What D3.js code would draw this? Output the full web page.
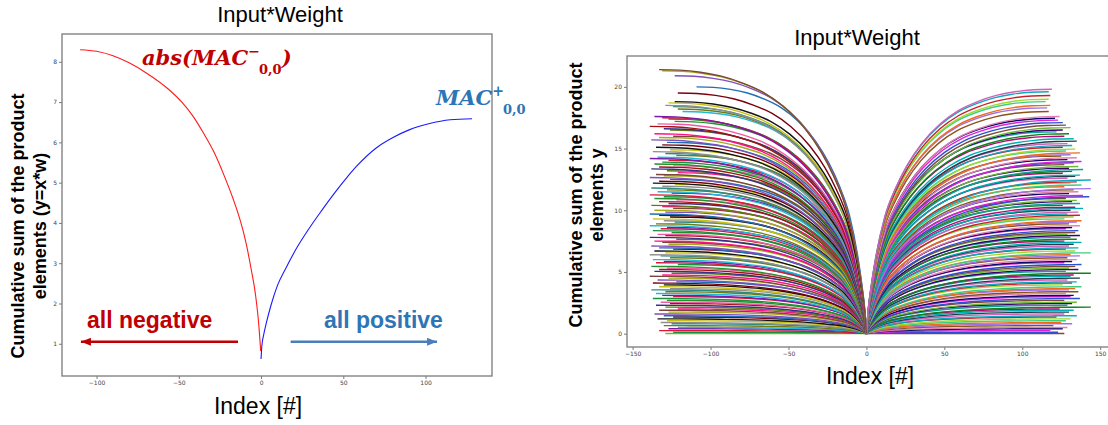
<!DOCTYPE html>
<html>
<head>
<meta charset="utf-8">
<script src="https://cdn.jsdelivr.net/npm/d3@7"></script>
<style>
body { margin: 0; background: #fff; }
svg { display: block; }
</style>
</head>
<body>
<svg id="svg1" width="1108" height="425"></svg>
<script>
// ---- left panel data: one kernel, cumulative sum of x*w ----
var negIndex = [-110, -100, -90, -80.5, -70, -56.6, -48, -41.4, -35, -28.4, -22, -17, -14.3, -11, -8.9, -6, -3.4, -1.5, -0.2];
var negValue = [8.30, 8.26, 8.15, 7.98, 7.73, 7.33, 6.99, 6.65, 6.23, 5.74, 5.13, 4.6, 4.28, 3.82, 3.46, 2.85, 2.23, 1.53, 0.82];
var posIndex = [0, 0.5, 1.5, 3, 6, 10, 15, 22, 29, 36.7, 45, 52, 58.4, 70, 80.2, 90, 101.9, 115, 128.3];
var posValue = [0.62, 0.95, 1.2, 1.48, 1.95, 2.45, 2.87, 3.4, 3.85, 4.3, 4.76, 5.12, 5.42, 5.86, 6.12, 6.31, 6.46, 6.56, 6.585];

var leftYTicks = [1, 2, 3, 4, 5, 6, 7, 8];
var leftXTicks = [-100, -50, 0, 50, 100];

// ---- right panel data: all kernels ----
// end point [index, value] of every cumulative curve
var negEnds = [[-133,21.4],[-131,21.3],[-123,20.9],[-109,20.0],[-121,19.5],[-123,18.8],[-127,18.7],[-129,18.5],[-124,18.4],[-121,18.2],[-118,18.0],[-136,17.6],[-131,17.5],[-127,17.4],[-123,17.2],[-134,17.0],[-139,16.8],[-130,16.6],[-126,16.5],[-136,16.2],[-124,16.0],[-133,15.9],[-138,15.7],[-128,15.5],[-131,15.3],[-135,15.1],
[-126,14.9],[-137,14.75],[-129,14.6],[-122,14.45],[-134,14.3],[-139,14.2],[-127,14.05],[-131,13.9],[-136,13.75],[-124,13.6],[-133,13.5],[-138,13.35],[-128,13.2],[-121,13.05],[-135,12.9],[-130,12.8],[-139,12.65],[-126,12.5],[-133,12.35],[-137,12.2],[-123,12.1],[-131,11.95],[-138,11.8],[-128,11.65],[-134,11.5],[-125,11.4],[-139,11.25],[-130,11.1],[-136,10.95],[-122,10.85],[-133,10.7],[-127,10.55],[-138,10.4],[-131,10.3],[-124,10.15],[-136,10.0],[-129,9.85],[-139,9.7],[-133,9.6],[-126,9.45],[-137,9.3],[-130,9.15],[-123,9.05],[-135,8.9],[-139,8.75],[-128,8.6],[-132,8.5],[-137,8.35],[-125,8.2],[-134,8.05],[-129,7.95],[-139,7.8],[-122,7.65],[-136,7.5],[-131,7.4],[-127,7.25],[-138,7.1],[-133,6.95],[-124,6.85],[-136,6.7],[-129,6.55],[-139,6.4],[-132,6.3],[-126,6.15],[-137,6.0],[-130,5.85],[-135,5.75],[-121,5.6],[-138,5.45],[-128,5.3],[-133,5.2],[-136,5.05],[-125,4.9],[-131,4.75],[-139,4.65],[-127,4.5],[-134,4.35],[-122,4.2],[-137,4.1],[-130,3.95],[-133,3.8],[-126,3.65],[-138,3.55],[-129,3.4],[-135,3.25],[-131,3.1],[-124,3.0],[-137,2.85],[-128,2.7],[-132,2.55],[-126,2.45],[-135,2.3],[-129,2.15],[-121,2.0],[-133,1.9],[-127,1.75],[-136,1.6],[-130,1.45],[-124,1.35],[-134,1.2],[-128,1.05],[-132,0.9],[-125,0.8],[-130,0.65],[-121,0.5],[-127,0.4],[-133,0.25],[-124,0.12],[-129,0.02]];

var posEnds = [[119,19.8],[117,19.6],[118,19.3],[117,19.0],[115,18.8],[118,18.5],[116,18.3],[117,18.0],[124,17.6],[121,17.45],[123,17.3],[126,17.1],[128,16.9],[131,16.7],[126,16.5],[122,16.35],[130,16.2],[127,16.0],[133,15.8],[135,15.6],[129,15.4],[132,15.25],[126,15.1],
[134,14.95],[128,14.8],[137,14.65],[131,14.5],[125,14.4],[135,14.25],[129,14.1],[138,13.95],[133,13.85],[127,13.7],[136,13.55],[130,13.4],[139,13.3],[132,13.15],[126,13.0],[137,12.85],[134,12.75],[129,12.6],[144,12.45],[135,12.3],[131,12.2],[138,12.05],[127,11.9],[144,11.75],[133,11.65],[136,11.5],[130,11.35],[139,11.2],[143,11.1],[128,10.95],[135,10.8],[132,10.7],[137,10.55],[126,10.4],[134,10.25],[139,10.15],[131,10.0],[136,9.85],[129,9.7],[137,9.6],[133,9.45],[127,9.3],[138,9.15],[135,9.05],[130,8.9],[137,8.75],[132,8.6],[128,8.5],[136,8.35],[134,8.2],[129,8.05],[137,7.95],[131,7.8],[135,7.65],[127,7.5],[138,7.4],[133,7.25],[130,7.1],[136,6.95],[128,6.85],[134,6.7],[144,6.55],[131,6.4],[137,6.3],[129,6.15],[135,6.0],[132,5.85],[127,5.75],[138,5.6],[134,5.45],[130,5.3],[136,5.2],[128,5.05],[144,4.9],[133,4.75],[131,4.65],[137,4.5],[129,4.35],[135,4.2],[132,4.1],[126,3.95],[138,3.8],[134,3.65],[130,3.55],[136,3.4],[128,3.25],[133,3.1],[131,3.0],[137,2.85],[127,2.7],[135,2.55],[132,2.45],[129,2.3],[144,2.15],[124,2.0],[133,1.9],[130,1.75],[127,1.6],[135,1.45],[122,1.35],[131,1.2],[128,1.05],[125,0.9],[132,0.8],[120,0.65],[129,0.5],[126,0.4],[118,0.25],[123,0.12],[127,0.02]];

// shape of a cumulative curve (fraction of length -> fraction of end value)
var profT = [0, 0.01, 0.025, 0.05, 0.1, 0.16, 0.22, 0.3, 0.4, 0.5, 0.6, 0.7, 0.8, 0.9, 1];
var profF = [0, 0.1, 0.19, 0.31, 0.48, 0.6, 0.69, 0.78, 0.86, 0.915, 0.95, 0.975, 0.99, 0.998, 1];

var rightYTicks = [0, 5, 10, 15, 20];
var rightXTicks = [-150, -100, -50, 0, 50, 100, 150];

var lineColors = ["#6fb83a","#1a8f3c","#7a4a3b","#e0143c","#2f4fd0","#7a1aa8","#e020d8","#20b8d8","#0a0a6a","#6f7a10",
	"#e07fb0","#2f8a80","#8a5418","#8f8f8f","#a070e8","#c8c010","#ee6a1a","#141414","#3ccf80","#7a0010",
	"#a0d830","#1f6fb4","#c8202a","#7f4fbd","#10a8c0","#a8a818","#d060b8","#7c463b","#203f4f","#ff1088",
	"#00b0b8","#5b7e13","#b80575","#3b2d8b","#12801e","#a21212","#10a098","#f05aa4","#3b0072","#24902c"];

var svg = d3.select("#svg1");
svg.append("rect").attr("width", 1108).attr("height", 425).attr("fill", "#fff");

var frameColor = "#7a7a7a";
var tickFont = "DejaVu Sans, sans-serif";

var drawAxes = function(g, x, y, xTicks, yTicks, box)
{
	g.append("g")
		.attr("transform", "translate(0," + box.bottom + ")")
		.call(d3.axisBottom(x).tickValues(xTicks).tickSize(3).tickPadding(2).tickFormat(d3.format("d")))
		.call(function(a) {
			a.select(".domain").remove();
			a.selectAll("line").attr("stroke", frameColor);
			a.selectAll("text").attr("font-size", 6).attr("font-family", tickFont).style("fill", "#444");
		});
	g.append("g")
		.attr("transform", "translate(" + box.left + ",0)")
		.call(d3.axisLeft(y).tickValues(yTicks).tickSize(3).tickPadding(2).tickFormat(d3.format("d")))
		.call(function(a) {
			a.select(".domain").remove();
			a.selectAll("line").attr("stroke", frameColor);
			a.selectAll("text").attr("font-size", 6).attr("font-family", tickFont).style("fill", "#444");
		});
	g.append("rect")
		.attr("x", box.left).attr("y", box.top)
		.attr("width", box.right - box.left).attr("height", box.bottom - box.top)
		.attr("fill", "none").attr("stroke", frameColor).attr("stroke-width", 1.3);
}

//====================== left panel ======================
var boxL = {left: 62, right: 492, top: 34, bottom: 376};
var xL = d3.scaleLinear().domain([-121, 140.4]).range([boxL.left, boxL.right]);
var yL = d3.scaleLinear().domain([0.2, 8.69]).range([boxL.bottom, boxL.top]);

var gL = svg.append("g");

var lineL = d3.line()
	.x(function(d) { return xL(d[0]); })
	.y(function(d) { return yL(d[1]); })
	.curve(d3.curveMonotoneX);

gL.append("path")
	.datum(negIndex.map(function(v, i) { return [v, negValue[i]]; }))
	.attr("d", lineL)
	.attr("fill", "none").attr("stroke", "#ff1a1a").attr("stroke-width", 1.1);

gL.append("path")
	.datum(posIndex.map(function(v, i) { return [v, posValue[i]]; }))
	.attr("d", lineL)
	.attr("fill", "none").attr("stroke", "#1a1aff").attr("stroke-width", 1.1);

drawAxes(gL, xL, yL, leftXTicks, leftYTicks, boxL);

// arrow heads
var defs = svg.append("defs");
defs.append("marker").attr("id", "headRed")
	.attr("viewBox", "0 0 10 8").attr("refX", 10).attr("refY", 4)
	.attr("markerWidth", 10).attr("markerHeight", 8).attr("markerUnits", "userSpaceOnUse")
	.attr("orient", "auto")
	.append("path").attr("d", "M0,0 L10,4 L0,8 Z").attr("fill", "#c00000");
defs.append("marker").attr("id", "headBlue")
	.attr("viewBox", "0 0 10 8").attr("refX", 10).attr("refY", 4)
	.attr("markerWidth", 10).attr("markerHeight", 8).attr("markerUnits", "userSpaceOnUse")
	.attr("orient", "auto")
	.append("path").attr("d", "M0,0 L10,4 L0,8 Z").attr("fill", "#4a7ebb");

gL.append("line")
	.attr("x1", xL(-14)).attr("x2", xL(-109.5))
	.attr("y1", yL(1.05)).attr("y2", yL(1.05))
	.attr("stroke", "#c00000").attr("stroke-width", 2.5)
	.attr("marker-end", "url(#headRed)");
gL.append("line")
	.attr("x1", xL(18)).attr("x2", xL(107))
	.attr("y1", yL(1.05)).attr("y2", yL(1.05))
	.attr("stroke", "#4a7ebb").attr("stroke-width", 2.5)
	.attr("marker-end", "url(#headBlue)");

gL.append("text")
	.attr("x", 87).attr("y", 328)
	.style("font-family", "Liberation Sans, Arial, sans-serif")
	.style("font-size", "23px").attr("font-weight", "bold")
	.attr("fill", "#c00000")
	.text("all negative");
gL.append("text")
	.attr("x", 324).attr("y", 328)
	.style("font-family", "Liberation Sans, Arial, sans-serif")
	.style("font-size", "23px").attr("font-weight", "bold")
	.attr("fill", "#2e75b6")
	.text("all positive");

// MAC labels
var macLabel = function(g, x, y, color, before, sign, after)
{
	var t = g.append("text")
		.attr("x", x).attr("y", y)
		.style("font-family", "DejaVu Serif, serif")
		.attr("font-weight", "bold")
		.attr("fill", color);
	t.append("tspan").style("font-size", "21px").attr("font-style", "italic").text(before + "MAC");
	t.append("tspan").style("font-size", "14px").attr("dy", -9).text(sign);
	t.append("tspan").style("font-size", "13px").attr("dx", -1).attr("dy", 18).text("0,0");
	if (after) t.append("tspan").style("font-size", "21px").attr("dy", -9).attr("font-style", "italic").text(after);
}
macLabel(gL, 142, 65, "#c00000", "abs(", "\u2212", ")");
macLabel(gL, 436, 105, "#2e75b6", "", "+", "");

// titles
gL.append("text")
	.attr("x", 280).attr("y", 22).attr("text-anchor", "middle")
	.style("font-family", "Liberation Sans, Arial, sans-serif").style("font-size", "22px")
	.text("Input*Weight");
gL.append("text")
	.attr("x", 258).attr("y", 414).attr("text-anchor", "middle")
	.style("font-family", "Liberation Sans, Arial, sans-serif").style("font-size", "23px")
	.text("Index [#]");
gL.append("text")
	.attr("transform", "translate(18,226) rotate(-90)").attr("dy", "0.35em").attr("text-anchor", "middle")
	.style("font-family", "Liberation Sans, Arial, sans-serif").style("font-size", "18px").attr("font-weight", "bold")
	.text("Cumulative sum of the product");
gL.append("text")
	.attr("transform", "translate(40,226) rotate(-90)").attr("dy", "0.35em").attr("text-anchor", "middle")
	.style("font-family", "Liberation Sans, Arial, sans-serif").style("font-size", "18px").attr("font-weight", "bold")
	.text("elements (y=x*w)");

//====================== right panel ======================
var boxR = {left: 627, right: 1115, top: 56, bottom: 347};
var xR = d3.scaleLinear().domain([-153.6, 159.5]).range([boxR.left, boxR.right]);
var yR = d3.scaleLinear().domain([-1.08, 22.5]).range([boxR.bottom, boxR.top]);

var gR = svg.append("g");
defs.append("clipPath").attr("id", "clipR")
	.append("rect").attr("x", boxR.left).attr("y", boxR.top)
	.attr("width", boxR.right - boxR.left).attr("height", boxR.bottom - boxR.top);

var curvePoints = function(end)
{
	var pts = profT.map(function(t, i) { return [end[0] * t, end[1] * profF[i]]; });
	if (end[0] < 0) pts.reverse();
	return pts;
}

var lineR = d3.line()
	.x(function(d) { return xR(d[0]); })
	.y(function(d) { return yR(d[1]); })
	.curve(d3.curveMonotoneX);

// interleave both sides so neither fan sits fully on top
var allCurves = [];
var n = Math.max(negEnds.length, posEnds.length);
for (var i = 0; i < n; i++)
{
	if (i < negEnds.length) allCurves.push(negEnds[i]);
	if (i < posEnds.length) allCurves.push(posEnds[i]);
}
// lowest end values first so the tall curves are drawn last
allCurves.reverse();

gR.append("g").attr("clip-path", "url(#clipR)")
	.selectAll("path")
	.data(allCurves)
	.enter().append("path")
	.attr("d", function(d) { return lineR(curvePoints(d)); })
	.attr("fill", "none")
	.attr("stroke", function(d, i) { return lineColors[i % lineColors.length]; })
	.attr("stroke-width", 1.4);

drawAxes(gR, xR, yR, rightXTicks, rightYTicks, boxR);

gR.append("text")
	.attr("x", 857).attr("y", 45).attr("text-anchor", "middle")
	.style("font-family", "Liberation Sans, Arial, sans-serif").style("font-size", "22px")
	.text("Input*Weight");
gR.append("text")
	.attr("x", 870).attr("y", 384).attr("text-anchor", "middle")
	.style("font-family", "Liberation Sans, Arial, sans-serif").style("font-size", "23px")
	.text("Index [#]");
gR.append("text")
	.attr("transform", "translate(576,195) rotate(-90)").attr("dy", "0.35em").attr("text-anchor", "middle")
	.style("font-family", "Liberation Sans, Arial, sans-serif").style("font-size", "18px").attr("font-weight", "bold")
	.text("Cumulative sum of the product");
gR.append("text")
	.attr("transform", "translate(597,195) rotate(-90)").attr("dy", "0.35em").attr("text-anchor", "middle")
	.style("font-family", "Liberation Sans, Arial, sans-serif").style("font-size", "18px").attr("font-weight", "bold")
	.text("elements y");
</script>
</body>
</html>
